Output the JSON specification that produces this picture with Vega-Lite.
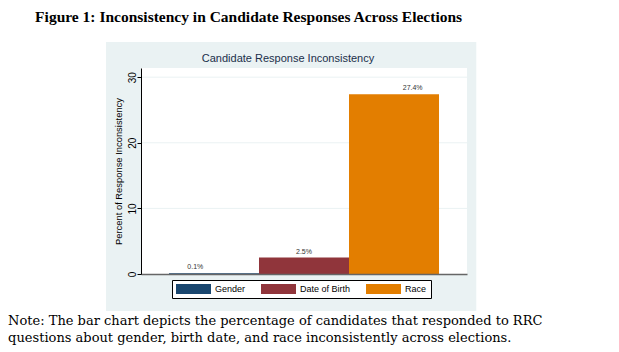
{
  "$schema": "https://vega.github.io/schema/vega-lite/v6.json",
  "background": "white",
  "padding": {"left": 8, "top": 10, "right": 0, "bottom": 0},
  "config": {"view": {"stroke": null}},
  "title": {
    "text": ["Note: The bar chart depicts the percentage of candidates that responded to RRC", "questions about gender, birth date, and race inconsistently across elections."],
    "orient": "bottom", "anchor": "start", "frame": "bounds",
    "font": "DejaVu Serif", "fontSize": 13, "fontWeight": "normal", "color": "black",
    "lineHeight": 17, "offset": 4, "dx": -27
  },
  "vconcat": [
    {
      "title": {
        "text": "Figure 1: Inconsistency in Candidate Responses Across Elections",
        "orient": "top", "anchor": "start", "frame": "bounds",
        "font": "Liberation Serif", "fontSize": 15.5, "fontWeight": "bold", "color": "black",
        "offset": 16, "dx": -71
      },
      "vconcat": [
        {
          "width": 326,
          "height": 206,
          "data": {"values": [
            {"item": "Gender", "pct": 0.1, "label": "0.1%"},
            {"item": "Date of Birth", "pct": 2.5, "label": "2.5%"},
            {"item": "Race", "pct": 27.4, "label": "27.4%"}
          ]},
          "title": {
            "text": "Candidate Response Inconsistency",
            "anchor": "middle", "font": "Liberation Sans", "fontSize": 11, "fontWeight": "normal",
            "color": "#1a2f4a", "dx": -16, "dy": 26, "offset": 4
          },
          "resolve": {"scale": {"x": "independent"}, "axis": {"x": "independent"}},
          "layer": [
            {
              "mark": {"type": "rect", "fill": "#EAF2F3"},
              "encoding": {
                "x": {"datum": -0.107, "type": "quantitative", "scale": {"domain": [0, 1], "nice": false, "zero": false}, "axis": null},
                "x2": {"datum": 1.028},
                "y": {"datum": -5.64, "type": "quantitative", "scale": {"domain": [0, 31.4], "nice": false, "zero": false}},
                "y2": {"datum": 35.37}
              }
            },
            {
              "mark": {"type": "rect", "fill": "white"},
              "encoding": {
                "x": {"datum": 0, "type": "quantitative", "scale": {"domain": [0, 1], "nice": false, "zero": false}, "axis": null},
                "x2": {"datum": 1},
                "y": {"datum": 0, "type": "quantitative", "scale": {"domain": [0, 31.4], "nice": false, "zero": false}},
                "y2": {"datum": 31.4}
              }
            },
            {
              "data": {"values": [{"g": 10}, {"g": 20}, {"g": 30}]},
              "mark": {"type": "rule", "color": "#EAF2F3", "strokeWidth": 1},
              "encoding": {
                "y": {"field": "g", "type": "quantitative", "scale": {"domain": [0, 31.4], "nice": false, "zero": false}}
              }
            },
            {
              "mark": {"type": "bar"},
              "encoding": {
                "x": {
                  "field": "item", "type": "nominal", "sort": ["Gender", "Date of Birth", "Race"],
                  "scale": {"paddingInner": 0, "paddingOuter": 0.311},
                  "axis": {"labels": false, "ticks": false, "title": null, "domainColor": "#666666", "domainWidth": 1.5, "zindex": 1}
                },
                "y": {
                  "field": "pct", "type": "quantitative",
                  "scale": {"domain": [0, 31.4], "nice": false, "zero": false},
                  "axis": {
                    "values": [0, 10, 20, 30], "grid": false, "zindex": 1,
                    "title": "Percent of Response Inconsistency",
                    "titleFont": "Liberation Sans", "titleFontSize": 9.4, "titleFontWeight": "normal", "titleColor": "black", "titlePadding": 4,
                    "labelFont": "Liberation Sans", "labelFontSize": 10, "labelColor": "black",
                    "labelAngle": -90, "labelAlign": "center", "labelBaseline": "alphabetic", "labelPadding": 2,
                    "tickSize": 4, "tickColor": "black", "domainColor": "black", "domainWidth": 1
                  }
                },
                "color": {
                  "field": "item", "type": "nominal",
                  "scale": {"domain": ["Gender", "Date of Birth", "Race"], "range": ["#1A476F", "#90353B", "#E37E00"]},
                  "legend": {
                    "orient": "none", "legendX": 31, "legendY": 212, "direction": "horizontal", "columns": 3,
                    "title": null,
                    "symbolType": "M-1,-1H6V1H-1Z", "symbolSize": 100, "symbolStrokeWidth": 0, "symbolOpacity": 1,
                    "labelFont": "Liberation Sans", "labelFontSize": 9, "labelColor": "black", "labelOffset": 29,
                    "columnPadding": 15,
                    "strokeColor": "black", "fillColor": "white", "padding": 4
                  }
                }
              }
            },
            {
              "mark": {"type": "text", "baseline": "bottom", "dy": -3, "font": "Liberation Sans", "fontSize": 7, "color": "#333333"},
              "encoding": {
                "x": {"field": "item", "type": "nominal", "sort": ["Gender", "Date of Birth", "Race"], "scale": {"paddingInner": 0, "paddingOuter": 0.311}, "axis": null},
                "y": {"field": "pct", "type": "quantitative", "scale": {"domain": [0, 31.4], "nice": false, "zero": false}},
                "text": {"field": "label"}
              }
            }
          ]
        }
      ]
    }
  ]
}
